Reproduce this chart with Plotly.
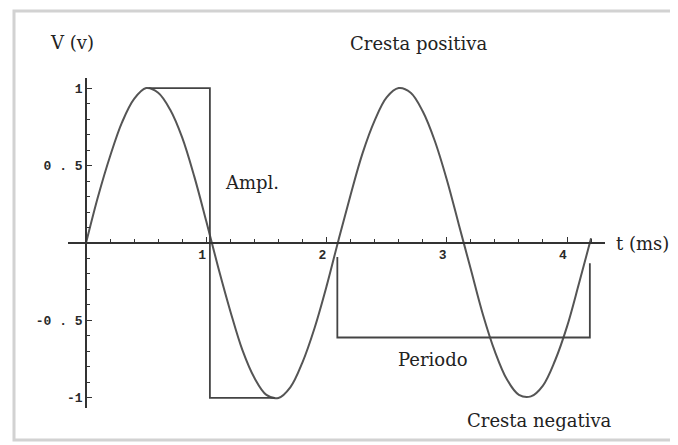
import plotly.graph_objects as go

# # #
# Onda senoidal: V(v) vs t(ms)
# # #

# curva
t_ms = [0.0, 0.1, 0.2, 0.3, 0.4, 0.5, 0.6, 0.7, 0.8, 0.9,
        1.0, 1.1, 1.2, 1.3, 1.4, 1.5, 1.6, 1.7, 1.8, 1.9,
        2.0, 2.1, 2.2, 2.3, 2.4, 2.5, 2.6, 2.7, 2.8, 2.9,
        3.0, 3.1, 3.2, 3.3, 3.4, 3.5, 3.6, 3.7, 3.8, 3.9,
        4.0, 4.1, 4.2]
v_volt = [0.0, 0.30, 0.56, 0.78, 0.93, 1.0, 0.97, 0.86, 0.68, 0.43,
          0.14, -0.16, -0.44, -0.69, -0.87, -0.98, -1.0, -0.93, -0.77, -0.55,
          -0.28, 0.02, 0.31, 0.58, 0.79, 0.94, 1.0, 0.97, 0.85, 0.66,
          0.41, 0.12, -0.17, -0.46, -0.70, -0.88, -0.98, -0.99, -0.92, -0.76,
          -0.54, -0.26, 0.03]

# corchete de amplitud
ampl_t = [0.52, 1.03, 1.03, 1.57]
ampl_v = [1.0, 1.0, -1.0, -1.0]

# corchete del periodo
per_t = [2.09, 2.09, 4.19, 4.19]
per_v = [-0.09, -0.61, -0.61, -0.13]

# ticks
x_major = [1, 2, 3, 4]
x_minor = [0.2, 0.4, 0.6, 0.8, 1.2, 1.4, 1.6, 1.8, 2.2, 2.4, 2.6, 2.8,
           3.2, 3.4, 3.6, 3.8, 4.2]
y_major = [-1, -0.5, 0.5, 1]
y_labels = ['-1', '-0 . 5', '0 . 5', '1']
y_minor = [-0.9, -0.8, -0.7, -0.6, -0.4, -0.3, -0.2, -0.1,
           0.1, 0.2, 0.3, 0.4, 0.6, 0.7, 0.8, 0.9]

# la pagina deja 8 px de margen, asi que la figura es algo menor
OFF = 8
W, H = 678 - OFF, 445 - OFF
SERIF = 'DejaVu Serif'
MONO = 'Liberation Mono'
INK = '#333333'


def px(x):
    return (x - OFF) / W


def py(y):
    return 1 - (y - OFF) / H


fig = go.Figure()
fig.add_trace(go.Scatter(x=t_ms, y=v_volt, mode='lines', line_shape='spline',
                         line=dict(color='#555555', width=2), cliponaxis=False))
fig.add_trace(go.Scatter(x=ampl_t, y=ampl_v, mode='lines',
                         line=dict(color='#444444', width=1.8), cliponaxis=False))
fig.add_trace(go.Scatter(x=per_t, y=per_v, mode='lines',
                         line=dict(color='#444444', width=1.8), cliponaxis=False))

axis_common = dict(showgrid=False, zeroline=False, showline=True,
                   linecolor=INK, linewidth=1.6, ticks='inside', ticklen=5,
                   tickwidth=1.4, tickcolor=INK, anchor='free',
                   tickfont=dict(family=MONO, size=13, color='#2a2a2a',
                                 weight='bold'))

fig.update_layout(
    width=W, height=H,
    margin=dict(l=0, r=0, t=0, b=0),
    paper_bgcolor='white', plot_bgcolor='white',
    showlegend=False,
    xaxis=dict(axis_common, domain=[px(68), px(605)], range=[-0.15, 4.316],
               position=py(243), tickmode='array', tickvals=x_major,
               ticktext=[str(v) for v in x_major], ticklabelshift=-4,
               minor=dict(tickmode='array', tickvals=x_minor, ticks='inside',
                          ticklen=3, tickcolor=INK)),
    yaxis=dict(axis_common, domain=[py(408), py(78)], range=[-1.065, 1.065],
               position=px(86), tickmode='array', tickvals=y_major,
               ticktext=y_labels,
               minor=dict(tickmode='array', tickvals=y_minor, ticks='inside',
                          ticklen=3, tickcolor=INK)),
)

# marco
fig.add_shape(type='rect', xref='paper', yref='paper',
              x0=px(14), x1=px(700), y0=py(440), y1=py(11),
              line=dict(color='#d2d2d2', width=3), layer='below')

# textos
textos = [
    ('V (v)', 72, 43),
    ('Cresta positiva', 418, 44),
    ('Ampl.', 252, 183),
    ('t (ms)', 642, 243),
    ('Periodo', 433, 359),
    ('Cresta negativa', 539, 420),
]
for txt, x, y in textos:
    fig.add_annotation(text=txt, xref='paper', yref='paper', x=px(x), y=py(y),
                       showarrow=False, xanchor='center', yanchor='middle',
                       font=dict(family=SERIF, size=18, color='#222222'))

fig.write_html("out.html")
